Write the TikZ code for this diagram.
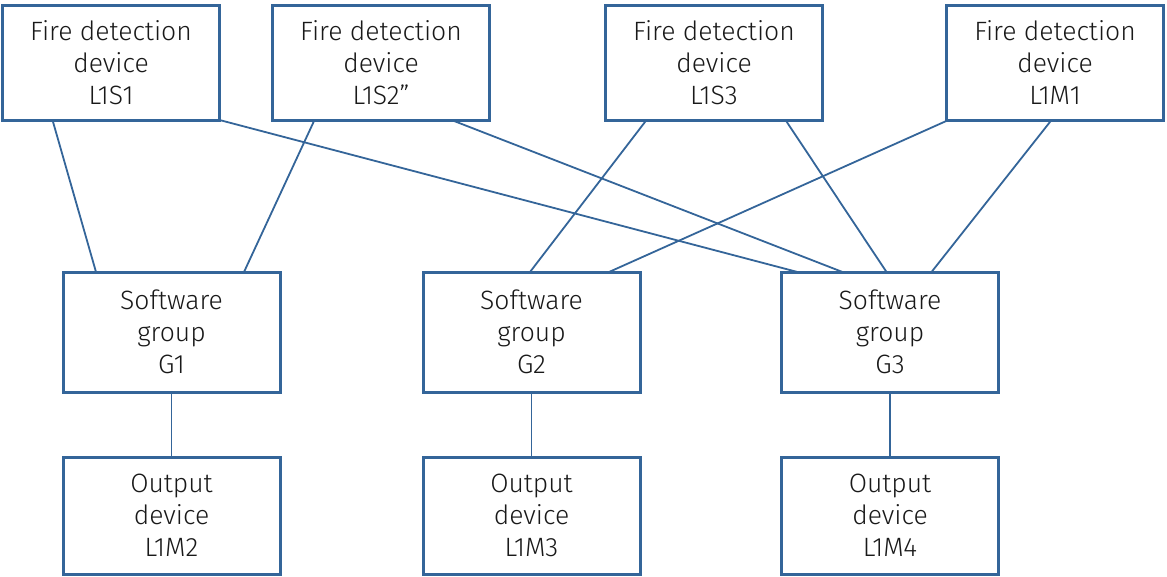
\documentclass[tikz,border=0pt]{standalone}
\usepackage{fontspec}
\setmainfont{Fira Sans}[UprightFont = * Light]
\usetikzlibrary{calc}
\definecolor{boxblue}{RGB}{52,101,153}
\tikzset{
  devbox/.style={draw=boxblue, line width=3pt, fill=white, rectangle, outer sep=0pt,
    minimum width=217pt, align=center, font=\fontsize{26.5}{32}\selectfont, text=black!90},
  topbox/.style={devbox, minimum height=115pt},
  midbox/.style={devbox, minimum height=120pt},
  botbox/.style={devbox, minimum height=117pt},
  link/.style={draw=boxblue, line width=1.8pt},
  vlink/.style={draw=boxblue, line width=1.5pt}
}
\begin{document}
\begin{tikzpicture}[x=1pt,y=-1pt]
\useasboundingbox (0,0) rectangle (1167,576);
\node[topbox] (s1) at (111,62.5) {Fire detection\\device\\L1S1};
\node[topbox] (s2) at (381,62.5) {Fire detection\\device\\L1S2”};
\node[topbox] (s3) at (714,62.5) {Fire detection\\device\\L1S3};
\node[topbox] (m1) at (1055,62.5) {Fire detection\\device\\L1M1};
\node[midbox] (g1) at (171.5,332) {Software\\group\\G1};
\node[midbox] (g2) at (531.5,332) {Software\\group\\G2};
\node[midbox] (g3) at (890,332) {Software\\group\\G3};
\node[botbox] (o2) at (171.5,515.5) {Output\\device\\L1M2};
\node[botbox] (o3) at (531.5,515.5) {Output\\device\\L1M3};
\node[botbox] (o4) at (890,515.5) {Output\\device\\L1M4};
% diagonal links
\draw[link] ([xshift=50pt]s1.south west) -- ([xshift=33pt]g1.north west);
\draw[link] ([xshift=42pt]s2.south west) -- ([xshift=181pt]g1.north west);
\draw[link] (s1.south east) -- ([xshift=16pt]g3.north west);
\draw[link] ([xshift=179pt]s2.south west) -- ([xshift=61pt]g3.north west);
\draw[link] ([xshift=41pt]s3.south west) -- ([xshift=107pt]g2.north west);
\draw[link] ([xshift=180pt]s3.south west) -- ([xshift=105pt]g3.north west);
\draw[link] ([xshift=2pt]m1.south west) -- ([xshift=186pt]g2.north west);
\draw[link] ([xshift=105pt]m1.south west) -- ([xshift=150pt]g3.north west);
% vertical links
\draw[vlink] (g1.south) -- (o2.north);
\draw[vlink] (g2.south) -- (o3.north);
\draw[vlink] (g3.south) -- (o4.north);
\end{tikzpicture}
\end{document}
